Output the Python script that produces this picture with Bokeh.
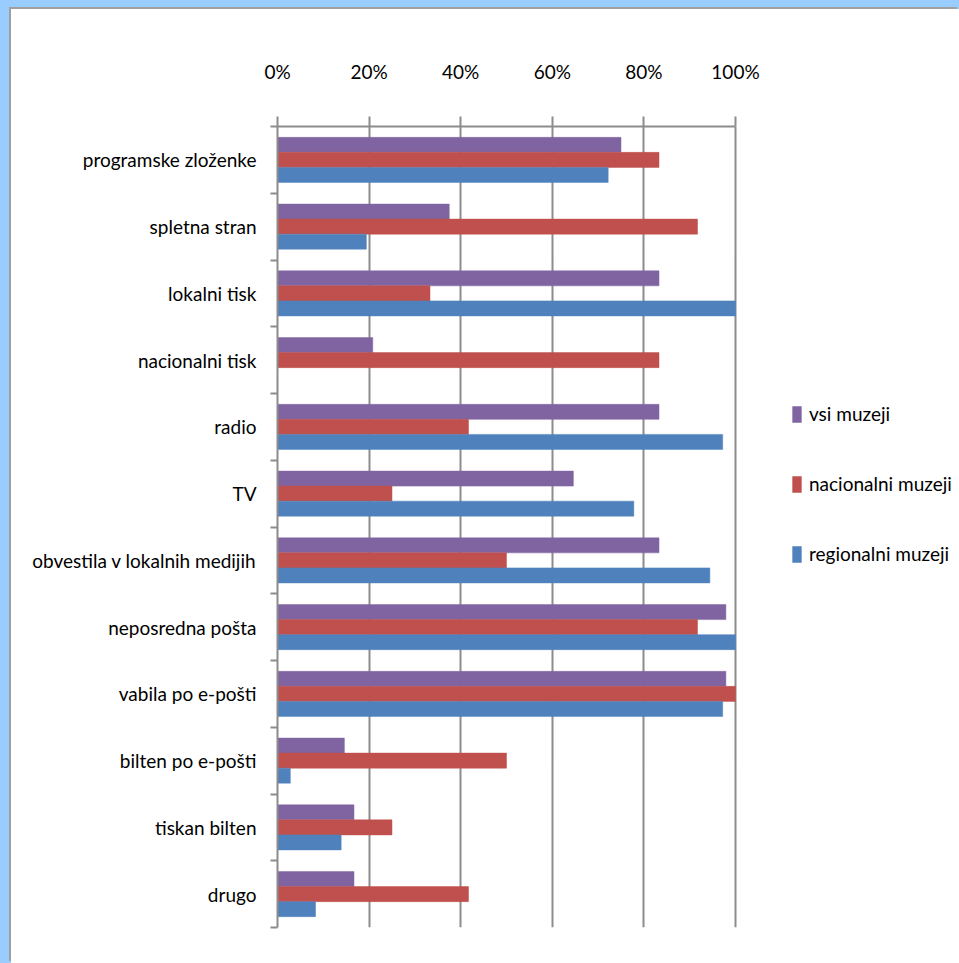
from bokeh.plotting import figure
from bokeh.models import (ColumnDataSource, Range1d, FixedTicker, LinearAxis,
                          Legend, LegendItem)
from bokeh.transform import dodge
from bokeh.layouts import column
from bokeh.embed import file_html
from bokeh.resources import INLINE

categories = ["programske zloženke", "spletna stran", "lokalni tisk", "nacionalni tisk",
              "radio", "TV", "obvestila v lokalnih medijih", "neposredna pošta",
              "vabila po e-pošti", "bilten po e-pošti", "tiskan bilten", "drugo"]
vsi_muzeji = [75.0, 37.5, 83.3, 20.8, 83.3, 64.6, 83.3, 97.9, 97.9, 14.6, 16.7, 16.7]
nacionalni_muzeji = [83.3, 91.7, 33.3, 83.3, 41.7, 25.0, 50.0, 91.7, 100.0, 50.0, 25.0, 41.7]
regionalni_muzeji = [72.2, 19.4, 100.0, 0.0, 97.2, 77.8, 94.4, 100.0, 97.2, 2.8, 13.9, 8.3]
series_names = ["vsi muzeji", "nacionalni muzeji", "regionalni muzeji"]
colors = ["#8064A2", "#C0504D", "#4F81BD"]
x_ticks = [0, 20, 40, 60, 80, 100]
x_tick_labels = ["0%", "20%", "40%", "60%", "80%", "100%"]

FONT = "Lato"
FS = "19px"
GRAY = "#8c8c8c"

W, H = 948, 954
LEFT, TOP, BOTTOM = 266, 117, 36
PLOT_W = 458  # pixel width of 0..100 %

idx = list(range(len(categories)))
source = ColumnDataSource(dict(idx=idx, vsi=vsi_muzeji, nac=nacionalni_muzeji,
                               reg=regionalni_muzeji))

n = len(categories)
x_end = 100 * (W - LEFT) / PLOT_W
p = figure(width=W, height=H, output_backend="svg", toolbar_location=None,
           x_range=Range1d(0, x_end), y_range=Range1d(n - 0.5, -0.5),
           x_axis_location=None, y_axis_location=None,
           min_border_left=LEFT, min_border_top=TOP, min_border_right=0,
           min_border_bottom=BOTTOM)
p.outline_line_color = None
p.background_fill_color = "white"
p.border_fill_color = "white"

# top axis
xaxis = LinearAxis(ticker=FixedTicker(ticks=x_ticks), bounds=(0, 100),
                   major_label_overrides={t: l for t, l in zip(x_ticks, x_tick_labels)})
xaxis.axis_line_color = GRAY
xaxis.axis_line_width = 2
xaxis.major_tick_line_color = GRAY
xaxis.major_tick_line_width = 2
xaxis.major_tick_out = 10
xaxis.major_tick_in = 0
xaxis.minor_tick_line_color = None
xaxis.major_label_text_font = FONT
xaxis.major_label_text_font_size = FS
xaxis.major_label_text_color = "black"
xaxis.major_label_standoff = 34
p.add_layout(xaxis, "above")

# left axis
yaxis = LinearAxis(ticker=FixedTicker(ticks=idx, minor_ticks=[i - 0.5 for i in range(n + 1)]),
                   major_label_overrides={i: c for i, c in zip(idx, categories)})
yaxis.axis_line_color = GRAY
yaxis.axis_line_width = 2
yaxis.major_tick_line_color = None
yaxis.major_tick_out = 0
yaxis.major_tick_in = 0
yaxis.minor_tick_line_color = GRAY
yaxis.minor_tick_line_width = 2
yaxis.minor_tick_out = 7
yaxis.minor_tick_in = 0
yaxis.major_label_text_font = FONT
yaxis.major_label_text_font_size = FS
yaxis.major_label_text_color = "black"
yaxis.major_label_standoff = 14
p.add_layout(yaxis, "left")

p.xgrid.ticker = FixedTicker(ticks=x_ticks)
p.xgrid.grid_line_color = GRAY
p.xgrid.grid_line_width = 2
p.ygrid.grid_line_color = None

bh = 0.225
fields = ["vsi", "nac", "reg"]
offsets = [-bh, 0.0, bh]
renderers = []
for f, off, c in zip(fields, offsets, colors):
    r = p.hbar(y=dodge("idx", off, range=p.y_range), right=f, left=0, height=bh,
               source=source, fill_color=c, line_color=c, line_width=0.5)
    renderers.append(r)

legend = Legend(items=[LegendItem(label=nm, renderers=[r]) for nm, r in zip(series_names, renderers)],
                location=(514, 362), orientation="vertical")
legend.glyph_width = 11
legend.glyph_height = 20
legend.label_height = 20
legend.spacing = 47
legend.padding = 0
legend.margin = 0
legend.label_standoff = 7
legend.border_line_color = None
legend.background_fill_alpha = 0
legend.label_text_font = FONT
legend.label_text_font_size = FS
legend.label_text_color = "black"
p.add_layout(legend, "center")

p.margin = (9, 0, 0, 11)
p.styles = {"box-shadow": "-2px -2px 0 0 #a0a0a0", "background-color": "white"}
layout = column(p, styles={"background-color": "#99ccff"})

open("out.html", "w").write(file_html(layout, INLINE))
